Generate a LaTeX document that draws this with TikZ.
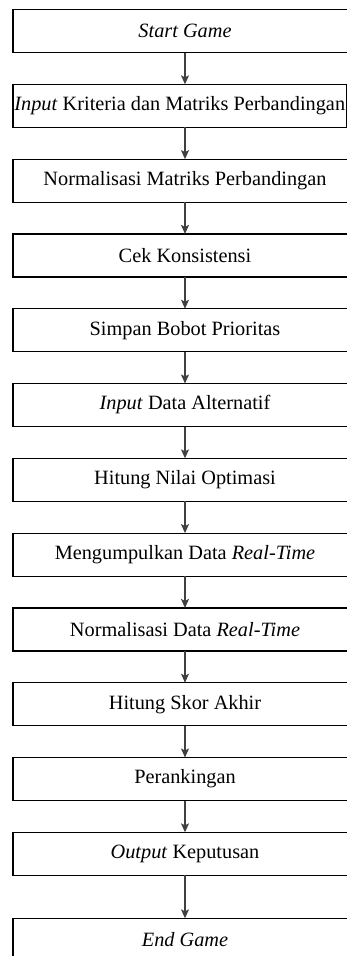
\documentclass[tikz,border=0pt]{standalone}
\usepackage{fontspec}
\setmainfont{Liberation Serif}
\usetikzlibrary{arrows.meta, positioning}

\begin{document}
\begin{tikzpicture}[
    x=1pt, y=1pt,
    node distance=31.8pt and 0pt,
    box/.style={rectangle, draw, line width=1.2pt, minimum width=344pt, minimum height=43pt, inner xsep=0pt, inner ysep=0pt, outer sep=0pt, font=\fontsize{20.3}{24}\selectfont},
    arrow/.style={-{Stealth[length=9pt, width=8pt, inset=2pt]}, line width=1.1pt, black!75}
]
\useasboundingbox (0,0) rectangle (347,-956);
\clip (0,0) rectangle (347,-956);

\node[box, anchor=north west] (start) at (13,-9.5) {\textit{Start Game}};
\node[box, minimum width=333.5pt, below right=of start.south west] (inkrit) {\makebox[333.5pt]{\textit{Input} Kriteria dan Matriks Perbandingan}};
\node[box, below right=of inkrit.south west] (normmat) {Normalisasi Matriks Perbandingan};
\node[box, below right=of normmat.south west] (konsist) {Cek Konsistensi};
\node[box, below right=of konsist.south west] (bobot) {Simpan Bobot Prioritas};
\node[box, below right=of bobot.south west] (altern) {\textit{Input} Data Alternatif};
\node[box, below right=of altern.south west] (optim) {Hitung Nilai Optimasi};
\node[box, below right=of optim.south west] (kumpul) {Mengumpulkan Data \textit{Real-Time}};
\node[box, below right=of kumpul.south west] (normdata) {Normalisasi Data \textit{Real-Time}};
\node[box, below right=of normdata.south west] (skor) {Hitung Skor Akhir};
\node[box, below right=of skor.south west] (rank) {Perankingan};
\node[box, below right=of rank.south west] (output) {\textit{Output} Keputusan};
\node[box, below right=43pt and 0pt of output.south west] (endgame) {\textit{End Game}};

% arrows all run down the same centre line
\foreach \a/\b in {start/inkrit, inkrit/normmat, normmat/konsist, konsist/bobot, bobot/altern, altern/optim, optim/kumpul, kumpul/normdata, normdata/skor, skor/rank, rank/output, output/endgame}
    \draw[arrow] (\a.south -| start.south) -- (\b.north -| start.south);

\end{tikzpicture}
\end{document}
